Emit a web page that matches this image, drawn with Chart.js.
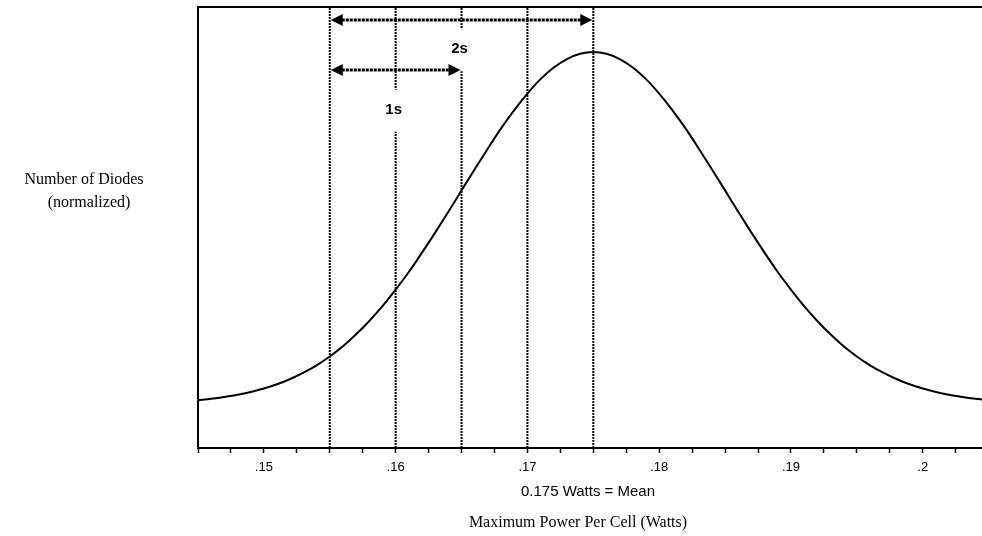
<!DOCTYPE html>
<html>
<head>
<meta charset="utf-8">
<script src="https://cdn.jsdelivr.net/npm/chart.js@4.4.0/dist/chart.umd.min.js"></script>
<style>
  html, body { margin: 0; padding: 0; background: #fff; }
  #wrap { position: relative; width: 982px; height: 536px; }
</style>
</head>
<body>
<div id="wrap"><canvas id="chart"></canvas></div>
<script>
// maximum power per cell (watts)
const power = [
  0.145, 0.146, 0.147, 0.148, 0.149, 0.150, 0.151, 0.152, 0.153, 0.154,
  0.155, 0.156, 0.157, 0.158, 0.159, 0.160, 0.161, 0.162, 0.163, 0.164,
  0.165, 0.166, 0.167, 0.168, 0.169, 0.170, 0.171, 0.172, 0.173, 0.174,
  0.175, 0.176, 0.177, 0.178, 0.179, 0.180, 0.181, 0.182, 0.183, 0.184,
  0.185, 0.186, 0.187, 0.188, 0.189, 0.190, 0.191, 0.192, 0.193, 0.194,
  0.195, 0.196, 0.197, 0.198, 0.199, 0.200, 0.201, 0.202, 0.203, 0.204,
  0.205
];

// number of diodes, normalized to the peak
const diodes = [
  0.011, 0.015, 0.020, 0.026, 0.034, 0.044, 0.056, 0.071, 0.089, 0.110,
  0.135, 0.164, 0.198, 0.236, 0.278, 0.325, 0.375, 0.430, 0.487, 0.546,
  0.607, 0.667, 0.726, 0.783, 0.835, 0.882, 0.923, 0.956, 0.980, 0.995,
  1.000, 0.995, 0.980, 0.956, 0.923, 0.882, 0.835, 0.783, 0.726, 0.667,
  0.607, 0.546, 0.487, 0.430, 0.375, 0.325, 0.278, 0.236, 0.198, 0.164,
  0.135, 0.110, 0.089, 0.071, 0.056, 0.044, 0.034, 0.026, 0.020, 0.015,
  0.011
];

const tickValues = [
  0.145, 0.1475, 0.15, 0.1525, 0.155, 0.1575, 0.16, 0.1625, 0.165, 0.1675,
  0.17, 0.1725, 0.175, 0.1775, 0.18, 0.1825, 0.185, 0.1875, 0.19, 0.1925,
  0.195, 0.1975, 0.2, 0.2025
];

// mean and sigma markers
const sigmaLines = [0.155, 0.16, 0.165, 0.17, 0.175];
const arrowFrom = [0.155, 0.155];
const arrowTo = [0.175, 0.165];
const arrowLevel = [1.091, 0.949];
const sigmaLabels = ["2s", "1s"];
const labelX = [0.165, 0.16];
const labelY = [1.008, 0.836];

const xMin = 0.145, xMax = 0.2045;
const yMin = -0.125, yMax = 1.128;

const curve = {
  data: power.map((x, i) => ({ x: x, y: diodes[i] })),
  borderColor: "#000",
  borderWidth: 2,
  pointRadius: 0,
  cubicInterpolationMode: "monotone",
  fill: false,
};

const markerSets = sigmaLines.map((v) => ({
  data: [{ x: v, y: yMin }, { x: v, y: yMax }],
  borderColor: "#000",
  borderWidth: 2,
  borderDash: [2, 1],
  pointRadius: 0,
}));

const annotations = {
  id: "annotations",
  afterDatasetsDraw(chart) {
    const ctx = chart.ctx;
    const sx = chart.scales.x;
    const sy = chart.scales.y;
    ctx.save();

    // label boxes, they cut the dotted lines
    sigmaLabels.forEach((t, i) => {
      const px = sx.getPixelForValue(labelX[i]);
      const py = sy.getPixelForValue(labelY[i]);
      ctx.fillStyle = "#fff";
      ctx.fillRect(px - 14, py - 20, 28, 42);
      ctx.fillStyle = "#000";
      ctx.font = 'bold 15px "Liberation Sans", Arial, sans-serif';
      ctx.textAlign = "center";
      ctx.textBaseline = "middle";
      ctx.fillText(t, px - 2, py);
    });

    // double arrows
    arrowFrom.forEach((f, i) => {
      const x1 = sx.getPixelForValue(f) + 1;
      const x2 = sx.getPixelForValue(arrowTo[i]) - 1;
      const y = Math.round(sy.getPixelForValue(arrowLevel[i]));
      const head = 12;
      ctx.strokeStyle = "#000";
      ctx.lineWidth = 3;
      ctx.setLineDash([3, 1]);
      ctx.beginPath();
      ctx.moveTo(x1 + head - 1, y);
      ctx.lineTo(x2 - head + 1, y);
      ctx.stroke();
      ctx.setLineDash([]);
      ctx.fillStyle = "#000";
      ctx.beginPath();
      ctx.moveTo(x1, y);
      ctx.lineTo(x1 + head, y - 6);
      ctx.lineTo(x1 + head, y + 6);
      ctx.closePath();
      ctx.fill();
      ctx.beginPath();
      ctx.moveTo(x2, y);
      ctx.lineTo(x2 - head, y - 6);
      ctx.lineTo(x2 - head, y + 6);
      ctx.closePath();
      ctx.fill();
    });

    // texts outside the plot
    ctx.fillStyle = "#000";
    ctx.textAlign = "center";
    ctx.textBaseline = "middle";
    ctx.font = '15px "Liberation Sans", Arial, sans-serif';
    ctx.fillText("0.175 Watts = Mean", 588, 492);
    ctx.font = '16px "Liberation Serif", "Times New Roman", serif';
    ctx.fillText("Maximum Power Per Cell (Watts)", 578, 523);
    ctx.fillText("Number of Diodes", 84, 180);
    ctx.fillText("(normalized)", 89, 203);
    ctx.restore();
  },
};

new Chart("chart", {
  type: "line",
  data: {
    datasets: [curve, ...markerSets],
  },
  options: {
    responsive: true,
    maintainAspectRatio: false,
    animation: false,
    layout: { padding: 0 },
    plugins: {
      legend: { display: false },
      tooltip: { enabled: false },
    },
    scales: {
      x: {
        type: "linear",
        position: "bottom",
        min: xMin,
        max: xMax,
        afterBuildTicks: (axis) => {
          axis.ticks = tickValues.map((v) => ({ value: v }));
        },
        afterFit: (axis) => {
          axis.height = 88;
        },
        ticks: {
          autoSkip: false,
          maxRotation: 0,
          padding: 7,
          color: "#000",
          font: { family: '"Liberation Sans", Arial, sans-serif', size: 13 },
          callback: (value) => {
            const hundred = value * 100;
            if (Math.abs(hundred - Math.round(hundred)) > 1e-6) return "";
            return (Math.round(hundred) / 100).toString().replace(/^0/, "");
          },
        },
        grid: {
          display: true,
          drawOnChartArea: false,
          drawTicks: true,
          tickLength: 5,
          color: "#000",
          tickWidth: 1.5,
        },
        border: { display: true, color: "#000", width: 2 },
      },
      xTop: {
        type: "linear",
        axis: "x",
        position: "top",
        min: xMin,
        max: xMax,
        afterFit: (axis) => {
          axis.height = 7;
        },
        ticks: { display: false },
        grid: { display: false },
        border: { display: true, color: "#000", width: 2 },
      },
      y: {
        type: "linear",
        position: "left",
        min: yMin,
        max: yMax,
        afterFit: (axis) => {
          axis.width = 198;
        },
        ticks: { display: false },
        grid: { display: false },
        border: { display: true, color: "#000", width: 2 },
      },
    },
  },
  plugins: [annotations],
});
</script>
</body>
</html>
